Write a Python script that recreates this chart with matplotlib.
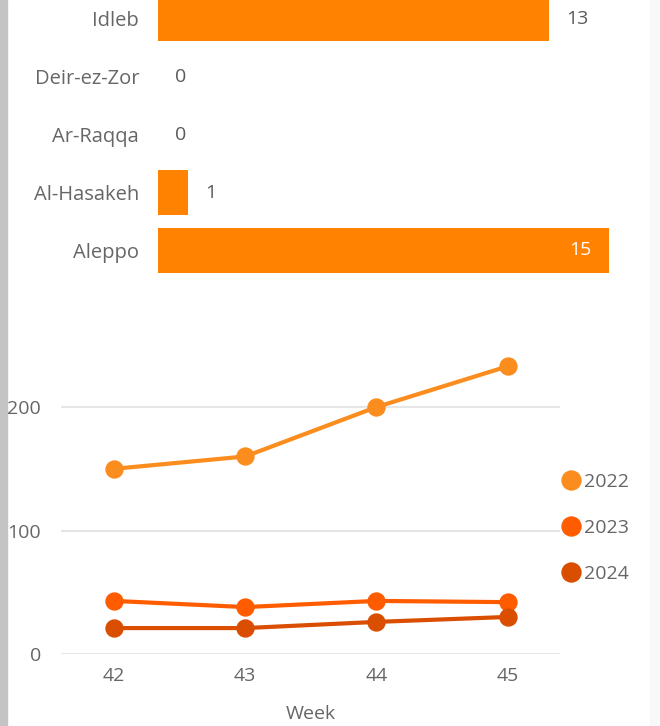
import matplotlib
matplotlib.use("Agg")
import matplotlib.pyplot as plt
from matplotlib.patches import Rectangle

plt.rcParams['font.family'] = ['Open Sans', 'DejaVu Sans']

# ---- data ----
regions = ["Aleppo", "Al-Hasakeh", "Ar-Raqqa", "Deir-ez-Zor", "Idleb"]
region_values = [15, 1, 0, 0, 13]

weeks = [42, 43, 44, 45]
series_names = ["2022", "2023", "2024"]
values_2022 = [150, 160, 200, 233]
values_2023 = [43, 38, 43, 42]
values_2024 = [21, 21, 26, 30]
y_ticks = [0, 100, 200]

bar_color = "#FF8300"
line_colors = ["#FB8C1E", "#FF5C00", "#D94E00"]
text_color = "#666666"

W, H = 660, 726
fig = plt.figure(figsize=(W / 100, H / 100), dpi=100)

def box(l, t, r, b):
    return [l / W, 1 - b / H, (r - l) / W, (b - t) / H]

# ---- frame decorations ----
fig.patches.append(Rectangle((0, 0), 7 / W, 1, transform=fig.transFigure,
                             color='#C4C4C4', zorder=-5))
fig.patches.append(Rectangle((650 / W, 0), 8 / W, 1, transform=fig.transFigure,
                             color='#F8F8F8', zorder=-5))

# ---- bar chart (top, cropped) ----
axb = fig.add_axes(box(158, 0, 640, 300))
axb.patch.set_alpha(0)
ypos = list(range(len(regions)))
axb.barh(ypos, region_values, height=0.776, color=bar_color)
axb.set_xlim(0, 482 / 30.07)
axb.set_ylim(-(300 - 250.5) / 58, 250.5 / 58)
axb.set_yticks(ypos)
axb.set_yticklabels(regions, fontsize=14.5, color=text_color)
axb.tick_params(axis='y', length=0, pad=13.5)
axb.set_xticks([])
for s in axb.spines.values():
    s.set_visible(False)
xmax = max(region_values)
for y, v in zip(ypos, region_values):
    if v >= xmax:
        axb.annotate(str(v), (v, y), xytext=(-13, 0), textcoords='offset points',
                     ha='right', va='center', fontsize=14, color='white',
                     fontweight='medium')
    else:
        axb.annotate(str(v), (v, y), xytext=(12.5, 0), textcoords='offset points',
                     ha='left', va='center', fontsize=14, color='#5A5A5A',
                     fontweight='medium')

# ---- line chart (bottom) ----
axl = fig.add_axes(box(61, 333, 560, 654))
axl.patch.set_alpha(0)
for name, vals, c in zip(series_names, [values_2022, values_2023, values_2024], line_colors):
    axl.plot(weeks, vals, color=c, lw=3, marker='o', ms=12.2, label=name, zorder=3)
axl.set_xlim(42 - 53 / 131.2, 45 + 52.4 / 131.2)
axl.set_ylim(0, 260)
axl.set_yticks(y_ticks)
axl.set_xticks(weeks)
axl.tick_params(axis='both', length=0, labelsize=14, labelcolor=text_color)
axl.tick_params(axis='y', pad=14.4)
axl.tick_params(axis='x', pad=9.5)
axl.grid(axis='y', color='#E6E6E6', lw=1.5)
axl.set_axisbelow(True)
for s in axl.spines.values():
    s.set_visible(False)
axl.set_xlabel("Week", fontsize=14, color=text_color, labelpad=14)
leg = fig.legend(*axl.get_legend_handles_labels(), loc='center left',
                 bbox_to_anchor=(563 / W, 1 - 528 / H), frameon=False,
                 fontsize=14, labelcolor=text_color, handlelength=0.8,
                 handletextpad=0.27, labelspacing=1.45, markerscale=1.12,
                 borderpad=0, borderaxespad=0)
for h in leg.legend_handles:
    h.set_linestyle('none')

fig.savefig("out.png", dpi=100)
